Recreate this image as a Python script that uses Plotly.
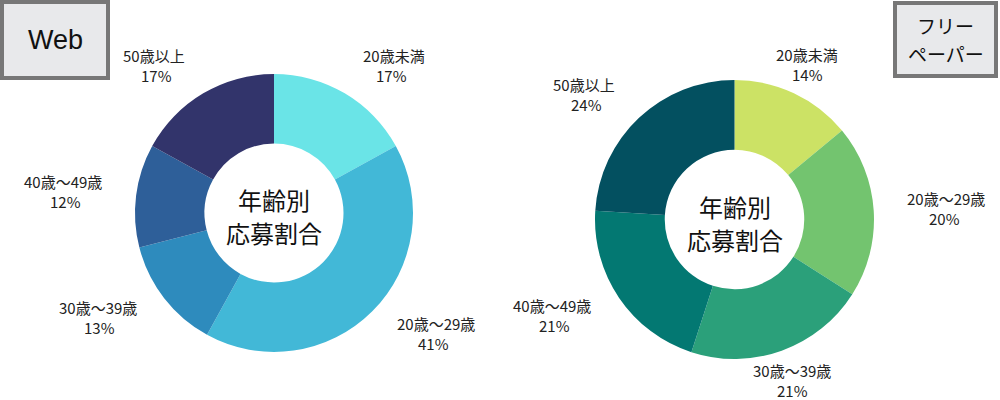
import math
import plotly.graph_objects as go

# ---- data ----
categories = ["20歳未満", "20歳～29歳", "30歳～39歳", "40歳～49歳", "50歳以上"]
web_values = [17, 41, 13, 12, 17]
paper_values = [14, 20, 21, 21, 24]
web_colors = ["#6ae4e7", "#42b8d7", "#2e8bbd", "#2e5f99", "#32346b"]
paper_colors = ["#cce265", "#73c46f", "#2ba07a", "#037872", "#035060"]
center_lines = ["年齢別", "応募割合"]
web_title = "Web"
paper_title_lines = ["フリー", "ペーパー"]

W, H = 1000, 400
FONT = "Noto Sans CJK JP"
LABEL_SIZE = 15

# pie geometry in pixels (center x, center y, radius)
pies = [
    dict(values=web_values, colors=web_colors, cx=274, cy=213, r=139),
    dict(values=paper_values, colors=paper_colors, cx=734.5, cy=219.5, r=139.5),
]
LABEL_R = 171
LABEL_GAP = 10   # half spacing between label lines (px)
CENTER_GAP = 16.5


def ann(px, py, text, size, xa="center", family=FONT, color="#222222"):
    return dict(x=px / W, y=1 - py / H, xref="paper", yref="paper",
                text=text, showarrow=False, xanchor=xa, yanchor="middle",
                align="center", font=dict(family=family, size=size, color=color))


def text_width(t, size):
    return sum(size * (0.55 if ord(ch) < 128 else 1.0) for ch in t)


fig = go.Figure()
annotations = []
for p in pies:
    cx, cy, r = p["cx"], p["cy"], p["r"]
    fig.add_trace(go.Pie(
        labels=categories, values=p["values"],
        marker=dict(colors=p["colors"], line=dict(width=0)),
        hole=0.5, sort=False, direction="clockwise", rotation=0,
        textinfo="none", hoverinfo="label+percent", showlegend=False,
        domain=dict(x=[(cx - r) / W, (cx + r) / W],
                    y=[1 - (cy + r) / H, 1 - (cy - r) / H]),
    ))
    total = sum(p["values"])
    acc = 0
    for cat, v in zip(categories, p["values"]):
        mid = (acc + v / 2) / total * 2 * math.pi
        acc += v
        s, c = math.sin(mid), math.cos(mid)
        px = cx + LABEL_R * s
        py = cy - LABEL_R * c
        xa = "left" if s > 0.45 else ("right" if s < -0.45 else "center")
        w = text_width(cat, LABEL_SIZE)
        pcx = px + w / 2 if xa == "left" else (px - w / 2 if xa == "right" else px)
        annotations.append(ann(px, py - LABEL_GAP, cat, LABEL_SIZE, xa))
        annotations.append(ann(pcx, py + LABEL_GAP,
                               f"{round(v / total * 100)}%", LABEL_SIZE))
    annotations.append(ann(cx, cy + 3 - CENTER_GAP, center_lines[0], 24, color="#111111"))
    annotations.append(ann(cx, cy + 3 + CENTER_GAP, center_lines[1], 24, color="#111111"))

# title boxes
annotations.append(ann(55, 40, web_title, 27, family="Liberation Sans", color="#111111"))
annotations.append(ann(945.5, 26, paper_title_lines[0], 19, color="#111111"))
annotations.append(ann(945.5, 53, paper_title_lines[1], 19, color="#111111"))

shapes = [
    dict(type="rect", xref="paper", yref="paper",
         x0=2 / W, x1=108 / W, y0=1 - 78 / H, y1=1 - 2 / H,
         fillcolor="#e8e9eb", line=dict(color="#777777", width=4), layer="below"),
    dict(type="rect", xref="paper", yref="paper",
         x0=895 / W, x1=996 / W, y0=1 - 76 / H, y1=1 - 3 / H,
         fillcolor="#e8e9eb", line=dict(color="#777777", width=4), layer="below"),
]

fig.update_layout(
    width=W, height=H, margin=dict(l=0, r=0, t=0, b=0),
    paper_bgcolor="white", plot_bgcolor="white",
    annotations=annotations, shapes=shapes,
)
fig.write_html("out.html")
